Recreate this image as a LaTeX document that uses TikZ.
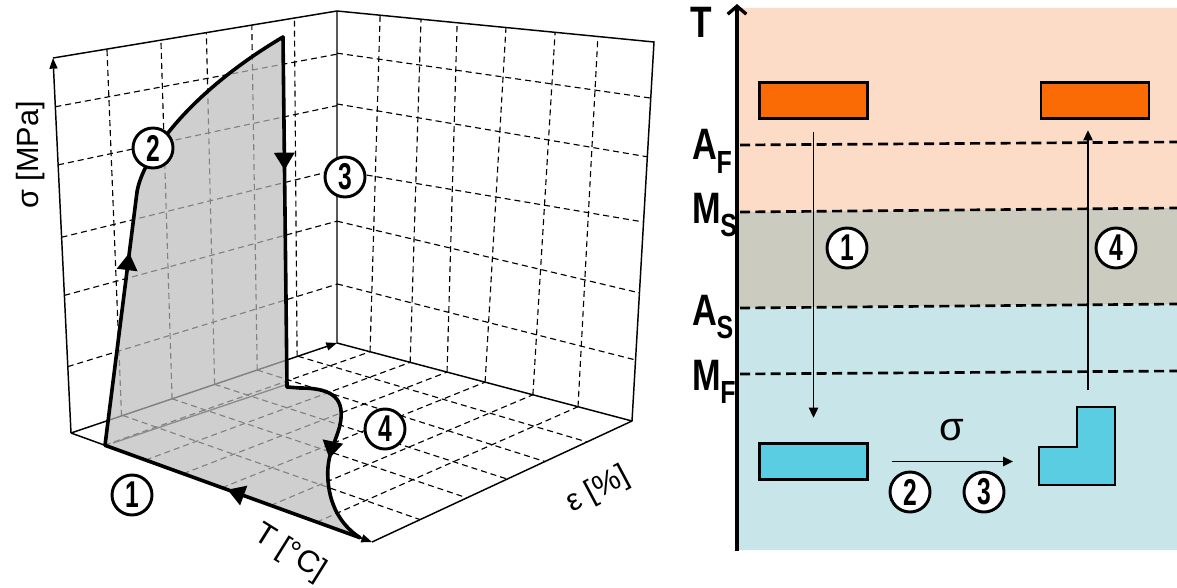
\documentclass[tikz,border=0pt]{standalone}
\usepackage{fontspec}
\setmainfont{Liberation Sans}
\usetikzlibrary{calc,arrows.meta,decorations.markings}
\definecolor{peach}{HTML}{FCDCC6}
\definecolor{sage}{HTML}{CBCCBF}
\definecolor{ice}{HTML}{C8E6EA}
\definecolor{orng}{HTML}{FA6A05}
\definecolor{cyanbox}{HTML}{5BCDE3}
\newcommand{\cn}[1]{\scalebox{0.66}[1]{#1}}
\newcommand{\lbl}[2]{\scalebox{0.78}[1]{#1\kern-0.5pt\raisebox{-10pt}{\fontsize{24}{24}\selectfont #2}}}
\begin{document}
\begin{tikzpicture}[x=0.75pt,y=-0.75pt,
  grid/.style={dash pattern=on 4.5pt off 3pt, line width=0.85pt},
  edge/.style={line width=1.1pt},
  axarrow/.style={edge,-{Triangle[length=8pt,width=6pt]}},
  curve/.style={line width=2.7pt, line join=round, line cap=round},
  midarrow/.style={postaction={decorate}, decoration={markings, mark=at position #1 with {\arrow{Triangle[length=13pt,width=15pt]}}}},
  cnode/.style={circle, draw, line width=2.2pt, fill=white, minimum size=30pt, inner sep=0pt, font=\fontsize{28}{28}\selectfont\bfseries},
  axlabel/.style={font=\fontsize{23}{23}\selectfont, inner sep=0pt},
  biglabel/.style={font=\fontsize{33}{33}\selectfont\bfseries, inner sep=0pt, anchor=base west},
  obox/.style={draw, line width=2.2pt, fill=orng, minimum width=81pt, minimum height=27.5pt, inner sep=0pt},
  bbox/.style={draw, line width=2.2pt, fill=cyanbox, minimum width=81pt, minimum height=27.5pt, inner sep=0pt},
  thinarrow/.style={line width=1.1pt, -{Triangle[length=7.5pt,width=7pt]}},
  tdash/.style={dash pattern=on 7.5pt off 4pt, line width=2pt}
]
\useasboundingbox (0,0) rectangle (1177,588);

% ---------------- 3D box ----------------
\coordinate (O) at (71,433);
\coordinate (S) at (53,58);
\coordinate (Bt) at (337,11);
\coordinate (B) at (337,343);
\coordinate (T) at (372,542);
\coordinate (E) at (632,421);
\coordinate (Et) at (654,42);

% left wall grid
\foreach \f in {0.19,0.38,0.54,0.70,0.85}
  \draw[grid] ($(O)!\f!(B)$) -- ($(S)!\f!(Bt)$);
\foreach \f in {0.177,0.367,0.522,0.715,0.87}
  \draw[grid] ($(O)!\f!(S)$) -- ($(B)!\f!(Bt)$);
% right wall grid
\foreach \a/\b in {0.112/0.136,0.248/0.265,0.373/0.379,0.502/0.533,0.664/0.688,0.817/0.823}
  \draw[grid] ($(B)!\a!(E)$) -- ($(Bt)!\b!(Et)$);
\foreach \a/\b in {0.178/0.161,0.367/0.338,0.521/0.525,0.72/0.697,0.873/0.852}
  \draw[grid] ($(B)!\a!(Bt)$) -- ($(E)!\b!(Et)$);
% floor grid
\foreach \f in {0.112,0.248,0.373,0.502,0.664,0.817}
  \draw[grid] ($(O)!\f!(T)$) -- ($(B)!\f!(E)$);
\foreach \a/\b in {0.195/0.185,0.38/0.365,0.54/0.52,0.70/0.665,0.853/0.827}
  \draw[grid] ($(O)!\a!(B)$) -- ($(T)!\b!(E)$);

% edges and axes
\draw[axarrow] (O) -- (S);
\draw[axarrow] (O) -- (T);
\draw[axarrow] (O) -- (B);
\draw[edge] (S) -- (Bt) -- (Et) -- (E) -- (T);
\draw[edge] (Bt) -- (B) -- (E);

% curve points
\coordinate (P1) at (360,537.7);
\coordinate (P2) at (105,445.3);
\coordinate (P3) at (137,192);
\coordinate (P4) at (283,37);
\coordinate (P5) at (287,387);
\coordinate (P6) at (340,425);
\coordinate (P7) at (328,480);

% shaded region
\fill[black!27, fill opacity=0.7] (P1) -- (P2) -- (P3) .. controls (142,160) and (185,95) .. (P4) -- (P5) -- (300,388)
  .. controls (335,388) and (345,400) .. (P6) .. controls (336,442) and (326,455) .. (P7)
  .. controls (330,510) and (345,528) .. (P1) -- cycle;
\draw[black!45, line width=1pt] (113,443) -- (285,385);

% thick loop
\draw[curve, midarrow=0.52] (P1) -- (P2);
\draw[curve, midarrow=0.76] (P2) -- (P3);
\draw[curve] (P3) .. controls (142,160) and (185,95) .. (P4);
\draw[curve, midarrow=0.38] (P4) -- (P5);
\draw[curve] (P5) -- (300,388) .. controls (335,388) and (345,400) .. (P6);
\draw[curve, midarrow=0.62] (P6) .. controls (336,442) and (326,455) .. (P7);
\draw[curve] (P7) .. controls (330,510) and (345,528) .. (P1);

% circled numbers
\node[cnode] (c1) at (132,495) {\cn{1}};
\node[cnode] (c2) at (153,148) {\cn{2}};
\node[cnode] (c3) at (345,177) {\cn{3}};
\node[cnode] (c4) at (385,429) {\cn{4}};

% axis labels
\node[axlabel, rotate=90] (ls) at (31,155) {σ [MPa]};
\node[axlabel, rotate=-32] (lt) at (290,553) {T [°C]};
\node[axlabel, rotate=28] (le) at (598,490) {ε [\%]};

% ---------------- right panel ----------------
\fill[peach] (737,8) -- (1177,8) -- (1177,208) -- (737,212) -- cycle;
\fill[sage] (737,212) -- (1177,208) -- (1177,304) -- (737,308) -- cycle;
\fill[ice] (737,308) -- (1177,304) -- (1177,550) -- (737,550) -- cycle;

\draw[tdash] (740,145) -- (1177,142);
\draw[tdash] (740,212) -- (1177,208);
\draw[tdash] (740,308) -- (1177,304);
\draw[tdash] (740,374) -- (1177,371);

\draw[line width=3pt, -{Straight Barb[length=6pt,width=14pt,line width=2.5pt]}] (737,551) -- (737,4);

\node[biglabel] (lT) at (690,38) {\scalebox{0.8}[1]{T}};
\node[biglabel] (lAF) at (692,160) {\lbl{A}{F}};
\node[biglabel] (lMS) at (692,223) {\lbl{M}{S}};
\node[biglabel] (lAS) at (692,325) {\lbl{A}{S}};
\node[biglabel] (lMF) at (692,390) {\lbl{M}{F}};

\node[obox] (box1) at (813.5,100.5) {};
\node[obox] (box2) at (1095,100.5) {};
\node[bbox] (box3) at (813.5,461.5) {};
\draw[line width=2.2pt, fill=cyanbox, line join=miter]
  (1039,485) -- (1115,485) -- (1115,407) -- (1077,407) -- (1077,447) -- (1039,447) -- cycle;
\coordinate (Lw) at (1039,461.5);
\coordinate (a4) at (1088,390);

\draw[thinarrow, shorten <=9pt, shorten >=18pt] (box1.south) -- (box3.north);
\draw[thinarrow, shorten >=7.5pt] (a4) -- (a4 |- box2.south);
\draw[thinarrow, shorten <=17pt, shorten >=19.5pt] (box3.east) -- (Lw);

\node[font=\fontsize{30}{30}\selectfont, inner sep=0pt] (sig) at (952,430) {σ};
\node[cnode] (r1) at (847,248) {\cn{1}};
\node[cnode] (r4) at (1116,248) {\cn{4}};
\node[cnode] (r2) at (910,492) {\cn{2}};
\node[cnode] (r3) at (984,492) {\cn{3}};
\end{tikzpicture}
\end{document}
